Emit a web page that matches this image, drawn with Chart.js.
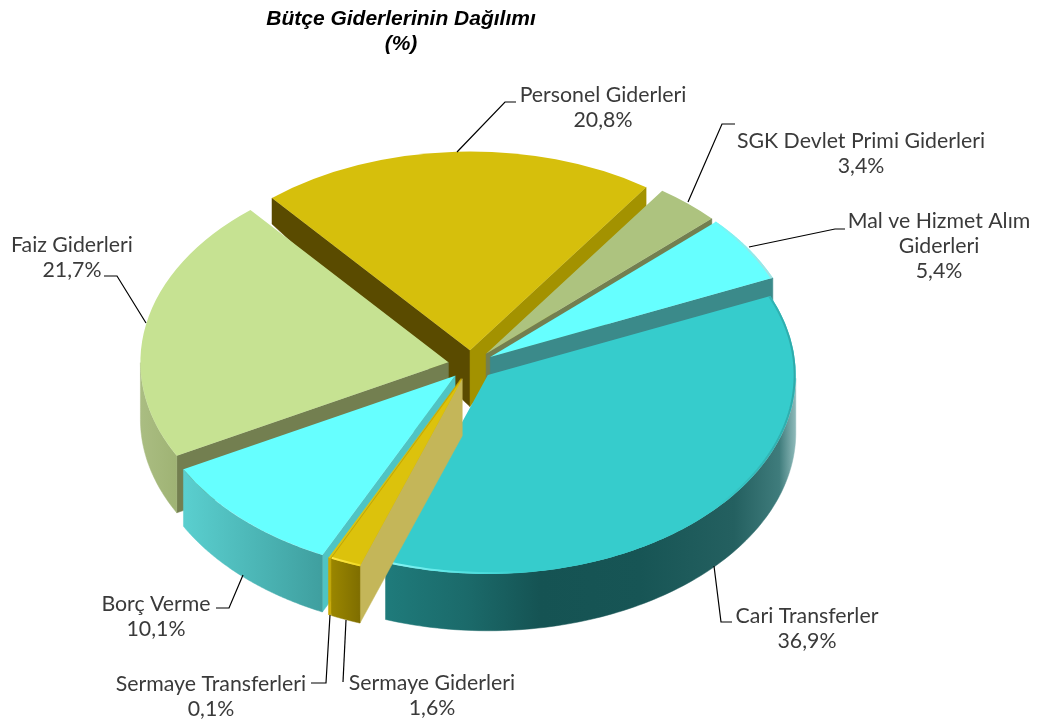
<!DOCTYPE html>
<html><head><meta charset="utf-8">
<style>html,body{margin:0;padding:0;background:#fff}canvas{display:block}</style>
<script src="https://cdn.jsdelivr.net/npm/chart.js@4/dist/chart.umd.min.js"></script>
</head><body>
<canvas id="c" width="1044" height="722"></canvas>
<script>
const categories = ['Personel Giderleri','SGK Devlet Primi Giderleri','Mal ve Hizmet Alım Giderleri','Cari Transferler','Sermaye Giderleri','Sermaye Transferleri','Borç Verme','Faiz Giderleri'];
const values = [20.8,3.4,5.4,36.9,1.6,0.1,10.1,21.7];
const titleLines = ['Bütçe Giderlerinin Dağılımı','(%)'];

const topColors = ['#D6BF0C','#ADC37F','#66FFFF','#36CCCC','#DCC20C','#E0C60A','#66FFFF','#C6E292'];
const wallColors = ['#5A4B00','#737F50','#3B8A8A','#1F7A7A','#C4B659','#C9A800','#4FC4C4','#737F50'];
const endWallColors = ['#A39200','#737F50','#3B8A8A','#1F7A7A','#C4B659','#C9A800','#4FC4C4','#737F50'];
const outerStops = [
  null,null,null,
  [[0,'#1F7B7B'],[0.2,'#1B6A6A'],[0.38,'#155353'],[0.62,'#175555'],[0.85,'#246060'],[0.96,'#3F7C7C'],[1,'#8FBABA']],
  [[0,'#9A8600'],[1,'#7F6E00']],
  [[0,'#C9A800'],[1,'#C9A800']],
  [[0,'#5ACFCF'],[1,'#3F9F9F']],
  [[0,'#AABD82'],[1,'#9FB374']]
];
const rimStops = [
  null,null,[[0,'#70F8F8'],[1,'#A8E0E0']],
  [[0,'#8AF5F5'],[0.16,'#5CE6E6'],[0.34,'#36CCCC'],[0.8,'#36CCCC'],[1,'#2FAAAA']],
  [[0,'#FFE84D'],[1,'#F0D820']],null,null,null
];
const drawOrder = [0,1,2,7,3,6,5,4];

const geo = {cx:471, cy:365, ky:0.645, radius:308, explode:23};
const depthAt = y => Math.min(57, 26 + (y - 198) * 0.2);

const labelFont = '21.3px Lato';
const textColor = '#3A3A3A';
const labelBlocks = [
  {i:0, x:603, y:95,  lines:['Personel Giderleri'], leader:[[457,152],[505,102],[516,102]]},
  {i:1, x:861, y:141, lines:['SGK Devlet Primi Giderleri'], leader:[[688,202],[722,124],[735,124]]},
  {i:2, x:939, y:221, lines:['Mal ve Hizmet Alım','Giderleri'], leader:[[749,247],[835,229],[845,229]]},
  {i:3, x:807, y:616, lines:['Cari Transferler'], leader:[[714,566],[721,622],[732,622]]},
  {i:4, x:432, y:683, lines:['Sermaye Giderleri'], leader:[[346,620],[343,682]]},
  {i:5, x:211, y:684, lines:['Sermaye Transferleri'], leader:[[330,615],[326,683],[311,683]]},
  {i:6, x:156, y:604, lines:['Borç Verme'], leader:[[243,575],[229,608],[216,608]]},
  {i:7, x:72,  y:245, lines:['Faiz Giderleri'], leader:[[146,323],[117,276],[104,276]]}
];

function pieFactory(){
  const pt = (el,a,r) => {
    const mid = (el.startAngle + el.endAngle)/2;
    return {x: geo.cx + geo.explode*Math.cos(mid) + r*Math.cos(a),
            y: geo.cy + geo.ky*(geo.explode*Math.sin(mid) + r*Math.sin(a))};
  };
  const down = p => ({x:p.x, y:p.y + depthAt(p.y)});
  const poly = (ctx,pts,fill) => {
    ctx.beginPath();
    pts.forEach((p,k)=> k ? ctx.lineTo(p.x,p.y) : ctx.moveTo(p.x,p.y));
    ctx.closePath(); ctx.fillStyle = fill; ctx.fill();
    ctx.strokeStyle = fill; ctx.lineWidth = 0.5; ctx.stroke();
  };
  const hGrad = (ctx,x0,x1,stops) => {
    const g = ctx.createLinearGradient(x0,0,x1,0);
    stops.forEach(s=>g.addColorStop(s[0],s[1]));
    return g;
  };
  return {
    id:'pie3d',
    beforeDatasetDraw(chart,args){
      const ctx = chart.ctx;
      const arcs = chart.getDatasetMeta(args.index).data;
      drawOrder.forEach(i=>{
        const el = arcs[i];
        const a0 = el.startAngle, a1 = el.endAngle;
        const R = el.outerRadius;
        const apex = pt(el,a0,0);
        if (Math.cos(a0) < 0){
          const b = pt(el,a0,R);
          poly(ctx,[apex,b,down(b),down(apex)],wallColors[i]);
        }
        if (Math.cos(a1) > 0){
          const b = pt(el,a1,R);
          poly(ctx,[apex,b,down(b),down(apex)],endWallColors[i]);
        }
        if (outerStops[i]){
          const front = [];
          const n = 120;
          for (let k=0;k<=n;k++){
            const a = a0 + (a1-a0)*k/n;
            if (Math.sin(a) >= -0.001) front.push(pt(el,a,R));
          }
          if (front.length>1){
            const xs = front.map(p=>p.x);
            const g = hGrad(ctx,Math.min(...xs),Math.max(...xs),outerStops[i]);
            poly(ctx,front.concat(front.map(down).reverse()),g);
          }
        }
        ctx.save();
        const o = pt(el,a0,0);
        ctx.translate(o.x,o.y);
        ctx.scale(1,geo.ky);
        ctx.translate(-el.x,-el.y);
        el.draw(ctx);
        ctx.restore();
        if (rimStops[i]){
          const rim = [];
          for (let k=0;k<=120;k++) rim.push(pt(el,a0+(a1-a0)*k/120,R-1.2));
          const xs = rim.map(p=>p.x);
          ctx.beginPath();
          rim.forEach((p,k)=> k?ctx.lineTo(p.x,p.y):ctx.moveTo(p.x,p.y));
          ctx.strokeStyle = hGrad(ctx,Math.min(...xs),Math.max(...xs),rimStops[i]);
          ctx.lineWidth = 2; ctx.stroke();
        }
      });
      return false;
    },
    afterDraw(chart){
      const ctx = chart.ctx;
      ctx.save();
      ctx.font = labelFont;
      ctx.textAlign = 'center';
      ctx.textBaseline = 'middle';
      labelBlocks.forEach(b=>{
        ctx.fillStyle = textColor;
        const pct = values[b.i].toFixed(1).replace('.',',') + '%';
        b.lines.concat([pct]).forEach((t,k)=> ctx.fillText(t,b.x,b.y + k*25));
        ctx.beginPath();
        b.leader.forEach((p,k)=> k?ctx.lineTo(p[0],p[1]):ctx.moveTo(p[0],p[1]));
        ctx.strokeStyle = '#000'; ctx.lineWidth = 1.2; ctx.stroke();
      });
      ctx.restore();
    }
  };
}

new Chart(document.getElementById('c'),{
  type:'pie',
  data:{labels:categories,datasets:[{data:values,backgroundColor:topColors,borderWidth:0,clip:false}]},
  options:{
    responsive:false,animation:false,rotation:-40,radius:308,
    layout:{padding:{right:242}},
    plugins:{
      legend:{display:false},tooltip:{enabled:false},
      title:{display:true,text:titleLines,fullSize:false,color:'#000',
        padding:{top:6,bottom:0},
        font:{family:'"Liberation Sans"',size:21,weight:'bold',style:'italic',lineHeight:1.22}}
    }
  },
  plugins:[pieFactory()]
});
</script>
</body></html>
